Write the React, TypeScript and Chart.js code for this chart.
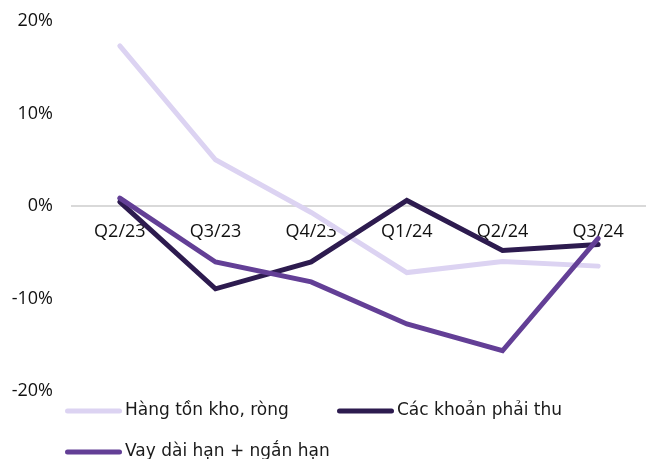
import React, { useEffect, useRef } from "react";
import { Chart, registerables } from "chart.js";

Chart.register(...registerables);

const categories = ["Q2/23", "Q3/23", "Q4/23", "Q1/24", "Q2/24", "Q3/24"];
const seriesNames = ["Hàng tồn kho, ròng", "Các khoản phải thu", "Vay dài hạn + ngắn hạn"];
const inventory = [17.3, 5.0, -0.7, -7.2, -6.0, -6.5];
const receivables = [0.45, -8.95, -6.05, 0.6, -4.8, -4.15];
const borrowings = [0.85, -6.05, -8.2, -12.75, -15.65, -3.5];
const yTicks = [-20, -10, 0, 10, 20];

const colors = ["#dcd3f2", "#2d1b4f", "#633f96"];

const legendPlugin = {
  id: "customLegend",
  afterDraw(chart: any, _args: any, opts: any) {
    const ctx = chart.ctx;
    const items = opts.items || [];
    ctx.save();
    chart.data.datasets.forEach((ds: any, i: number) => {
      const pos = items[i];
      if (!pos) return;
      ctx.beginPath();
      ctx.lineWidth = 5;
      ctx.lineCap = "round";
      ctx.strokeStyle = ds.borderColor;
      ctx.moveTo(pos.x + 2.5, pos.y);
      ctx.lineTo(pos.x + opts.sample - 2.5, pos.y);
      ctx.stroke();
      ctx.fillStyle = opts.color;
      ctx.font = opts.font;
      ctx.textBaseline = "middle";
      ctx.textAlign = "left";
      ctx.fillText(ds.label, pos.x + opts.sample + 3, pos.y);
    });
    ctx.restore();
  },
};

export default function App() {
  const ref = useRef<HTMLCanvasElement | null>(null);
  useEffect(() => {
    document.body.style.margin = "0";
    const canvas = ref.current;
    if (!canvas) return;
    const data = [inventory, receivables, borrowings];
    const chart = new Chart(canvas, {
      type: "line",
      data: {
        labels: categories,
        datasets: seriesNames.map((name, i) => ({
          label: name,
          data: data[i],
          borderColor: colors[i],
          backgroundColor: colors[i],
          borderWidth: 5,
          borderCapStyle: "round",
          pointRadius: 0,
          tension: 0,
          order: 3 - i,
        })),
      },
      options: {
        animation: false,
        responsive: false,
        maintainAspectRatio: false,
        layout: { padding: { top: 21, bottom: 68, left: 0, right: 0 } },
        plugins: {
          legend: { display: false },
          tooltip: { enabled: false },
          customLegend: {
            items: [
              { x: 65, y: 411 },
              { x: 337, y: 411 },
              { x: 65, y: 452 },
            ],
            sample: 57,
            font: "17px 'DejaVu Sans'",
            color: "#1a1a1a",
          },
        } as any,
        scales: {
          x: {
            type: "category",
            offset: true,
            position: { y: 0 } as any,
            grid: { display: false, drawTicks: false },
            border: { display: true, color: "#d9d9d9", width: 2 },
            ticks: {
              padding: 15,
              color: "#111",
              font: { family: "'Open Sans'", size: 18 },
              maxRotation: 0,
              autoSkip: false,
            },
          },
          y: {
            min: -20,
            max: 20,
            grid: { display: false, drawTicks: false },
            border: { display: false },
            afterFit: (scale: any) => {
              scale.width = 72;
              scale.paddingTop = 10;
              scale.paddingBottom = 10;
            },
            afterBuildTicks: (scale: any) => {
              scale.ticks = yTicks.map((v) => ({ value: v }));
            },
            ticks: {
              padding: 19,
              color: "#111",
              font: { family: "'Open Sans'", size: 18 },
              callback: (v: any) => `${v}%`,
            },
          },
        },
      },
      plugins: [legendPlugin],
    });
    return () => chart.destroy();
  }, []);
  return <canvas ref={ref} width={646} height={459} style={{ display: "block" }} />;
}
